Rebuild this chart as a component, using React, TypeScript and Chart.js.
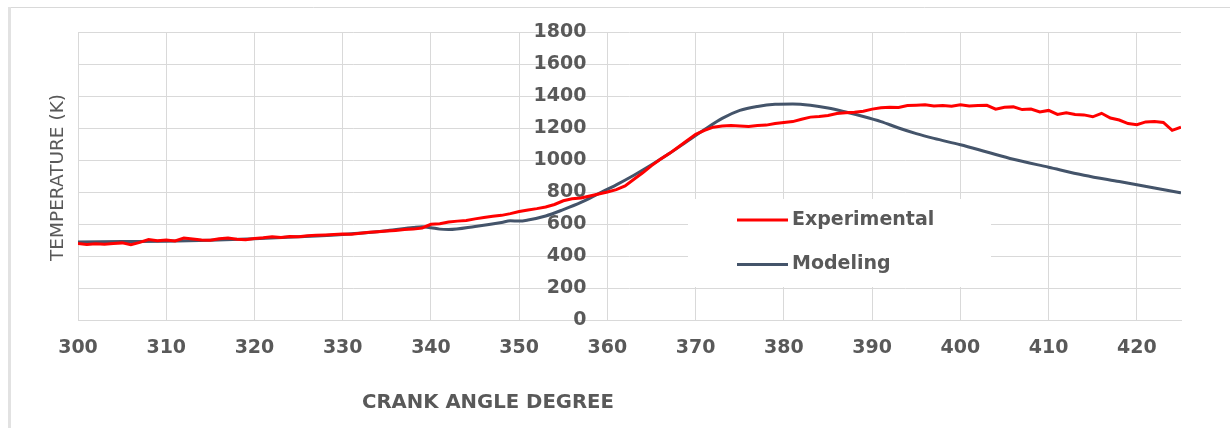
import React, { useEffect, useRef } from "react";
import { Chart, registerables } from "chart.js";

Chart.register(...registerables);

// ---------- data ----------
const expAngles = [
  300, 301, 302, 303, 304, 305, 306, 307, 308, 309,
  310, 311, 312, 313, 314, 315, 316, 317, 318, 319,
  320, 321, 322, 323, 324, 325, 326, 327, 328, 329,
  330, 331, 332, 333, 334, 335, 336, 337, 338, 339,
  340, 341, 342, 343, 344, 345, 346, 347, 348, 349,
  350, 351, 352, 353, 354, 355, 356, 357, 358, 359,
  360, 361, 362, 363, 364, 365, 366, 367, 368, 369,
  370, 371, 372, 373, 374, 375, 376, 377, 378, 379,
  380, 381, 382, 383, 384, 385, 386, 387, 388, 389,
  390, 391, 392, 393, 394, 395, 396, 397, 398, 399,
  400, 401, 402, 403, 404, 405, 406, 407, 408, 409,
  410, 411, 412, 413, 414, 415, 416, 417, 418, 419,
  420, 421, 422, 423, 424, 425,
];

const expTemps = [
  478, 472, 476, 474, 478, 482, 470, 485, 503, 496,
  500, 494, 512, 506, 500, 498, 508, 512, 505, 502,
  510, 514, 520, 516, 522, 520, 526, 530, 532, 535,
  538, 536, 542, 548, 552, 556, 560, 565, 568, 575,
  598, 602, 612, 618, 622, 632, 640, 648, 654, 665,
  678, 688, 696, 706, 722, 745, 758, 762, 775, 788,
  800, 815, 838, 880, 920, 965, 1005, 1040, 1080, 1120,
  1160, 1185, 1205, 1212, 1215, 1212, 1210, 1215, 1218, 1228,
  1235, 1240, 1255, 1268, 1272, 1278, 1290, 1295, 1298, 1305,
  1318, 1326, 1330, 1328, 1340, 1342, 1345, 1338, 1340, 1336,
  1345, 1338, 1340, 1342, 1318, 1330, 1332, 1315, 1318, 1300,
  1310, 1285, 1295, 1285, 1282, 1270, 1292, 1262, 1250, 1228,
  1220, 1238, 1240, 1235, 1185, 1205,
];

const modelAngles = [
  300, 305, 310, 315, 320, 325, 330, 335, 338, 339,
  340, 341, 342, 345, 348, 349, 350, 351, 353, 355,
  357, 359, 361, 363, 365, 367, 369, 371, 373, 375,
  377, 379, 381, 383, 385, 387, 389, 391, 393, 395,
  397, 400, 403, 406, 410, 414, 418, 422, 425,
];

const modelTemps = [
  488, 490, 492, 498, 508, 520, 535, 558, 578, 583,
  577, 568, 566, 585, 610, 620, 618, 625, 650, 690,
  735, 790, 845, 905, 970, 1040, 1115, 1190, 1260, 1310,
  1335, 1348, 1350, 1342, 1325, 1300, 1272, 1240, 1200, 1165,
  1135, 1095, 1050, 1005, 955, 905, 865, 825, 795,
];

const angleTicks = [300, 310, 320, 330, 340, 350, 360, 370, 380, 390, 400, 410, 420];
const tempTicks = [0, 200, 400, 600, 800, 1000, 1200, 1400, 1600, 1800];

const seriesLabels = ["Experimental", "Modeling"];
const seriesColors = ["#ff0000", "#44546a"];

const angleMin = 300;
const angleMax = 425;
const tempMin = 0;
const tempMax = 1800;
const yAxisCrossAt = 360;

const xTitle = "CRANK ANGLE DEGREE";
const yTitle = "TEMPERATURE (K)";

const FONT = '"DejaVu Sans", sans-serif';
const TEXT_COLOR = "#595959";
const GRID_COLOR = "#d9d9d9";
const Y_LABEL_GAP = 21; // px between y labels and the crossing gridline

// ---------- plugins ----------
const framePlugin = {
  id: "frame",
  beforeDraw(chart: any) {
    const ctx = chart.ctx;
    ctx.save();
    ctx.fillStyle = "#ffffff";
    ctx.fillRect(0, 0, chart.width, chart.height);
    ctx.strokeStyle = "#d9d9d9";
    ctx.lineWidth = 1;
    ctx.beginPath();
    ctx.moveTo(8, 7.5);
    ctx.lineTo(chart.width, 7.5);
    ctx.stroke();
    ctx.strokeStyle = "#e2e2e2";
    ctx.lineWidth = 3;
    ctx.beginPath();
    ctx.moveTo(9.5, 7);
    ctx.lineTo(9.5, chart.height);
    ctx.stroke();
    ctx.restore();
  },
};

const legendPlugin = {
  id: "insideLegend",
  afterDatasetsDraw(chart: any) {
    const ctx = chart.ctx;
    ctx.save();
    ctx.fillStyle = "#ffffff";
    ctx.fillRect(688, 199, 303, 88);
    chart.data.datasets.forEach((ds: any, i: number) => {
      const y = 220 + i * 44.5;
      ctx.strokeStyle = ds.borderColor;
      ctx.lineWidth = 3;
      ctx.beginPath();
      ctx.moveTo(737, y);
      ctx.lineTo(788, y);
      ctx.stroke();
      ctx.fillStyle = TEXT_COLOR;
      ctx.font = `bold 19px ${FONT}`;
      ctx.textAlign = "left";
      ctx.textBaseline = "middle";
      ctx.fillText(ds.label, 792, y);
    });
    ctx.restore();
  },
};

const titlesPlugin = {
  id: "axisTitles",
  afterDraw(chart: any) {
    const ctx = chart.ctx;
    ctx.save();
    ctx.fillStyle = TEXT_COLOR;
    ctx.textBaseline = "middle";
    ctx.textAlign = "center";
    // x title
    ctx.font = `bold 19px ${FONT}`;
    const w = ctx.measureText(xTitle).width;
    const target = 252;
    ctx.translate(488, 403);
    ctx.scale(target / w, 1);
    ctx.fillText(xTitle, 0, 0);
    ctx.setTransform(1, 0, 0, 1, 0, 0);
    // y title
    ctx.font = `18.5px ${FONT}`;
    ctx.translate(58.5, 177.5);
    ctx.rotate(-Math.PI / 2);
    ctx.fillText(yTitle, 0, 0);
    ctx.restore();
  },
};

export default function App() {
  const ref = useRef<HTMLCanvasElement | null>(null);

  useEffect(() => {
    if (!ref.current) return;
    const expData = expAngles.map((a, i) => ({ x: a, y: expTemps[i] }));
    const modelData = modelAngles.map((a, i) => ({ x: a, y: modelTemps[i] }));

    // y labels are drawn just left of the crossing gridline at 360 deg
    const plotWidthPx = 1230 - 78 - 49;
    const degPerPx = (angleMax - angleMin) / plotWidthPx;
    const yLabelAt = yAxisCrossAt - Y_LABEL_GAP * degPerPx;

    const chart = new Chart(ref.current, {
      type: "line",
      data: {
        datasets: [
          {
            label: seriesLabels[0],
            data: expData,
            borderColor: seriesColors[0],
            backgroundColor: seriesColors[0],
            borderWidth: 3,
            pointRadius: 0,
            tension: 0,
          },
          {
            label: seriesLabels[1],
            data: modelData,
            borderColor: seriesColors[1],
            backgroundColor: seriesColors[1],
            borderWidth: 3,
            pointRadius: 0,
            cubicInterpolationMode: "monotone",
          },
        ],
      },
      options: {
        animation: false,
        responsive: true,
        maintainAspectRatio: false,
        layout: { padding: { left: 78, right: 49, top: 32, bottom: 0 } },
        plugins: {
          legend: { display: false },
          tooltip: { enabled: false },
          title: { display: false },
        },
        scales: {
          x: {
            type: "linear",
            position: "bottom",
            min: angleMin,
            max: angleMax,
            afterBuildTicks: (axis: any) => {
              axis.ticks = angleTicks.map((v) => ({ value: v }));
            },
            afterFit: (scale: any) => {
              scale.height = 108;
            },
            ticks: {
              color: TEXT_COLOR,
              font: { family: FONT, size: 19, weight: "bold" },
              padding: 17,
              maxRotation: 0,
              autoSkip: false,
              callback: (v: any) => String(v),
            },
            grid: { color: GRID_COLOR, lineWidth: 1, drawTicks: false },
            border: { color: GRID_COLOR, width: 1 },
          },
          y: {
            type: "linear",
            position: { x: yLabelAt },
            min: tempMin,
            max: tempMax,
            afterBuildTicks: (axis: any) => {
              axis.ticks = tempTicks.map((v) => ({ value: v }));
            },
            ticks: {
              color: TEXT_COLOR,
              font: { family: FONT, size: 19, weight: "bold" },
              padding: 0,
              autoSkip: false,
              callback: (v: any) => String(v),
            },
            grid: { color: GRID_COLOR, lineWidth: 1, drawTicks: false },
            border: { display: false },
          },
        },
      },
      plugins: [framePlugin, legendPlugin, titlesPlugin],
    } as any);
    return () => chart.destroy();
  }, []);

  return (
    <div style={{ position: "fixed", left: 0, top: 0, width: 1230, height: 428, background: "#fff" }}>
      <canvas ref={ref} />
    </div>
  );
}
